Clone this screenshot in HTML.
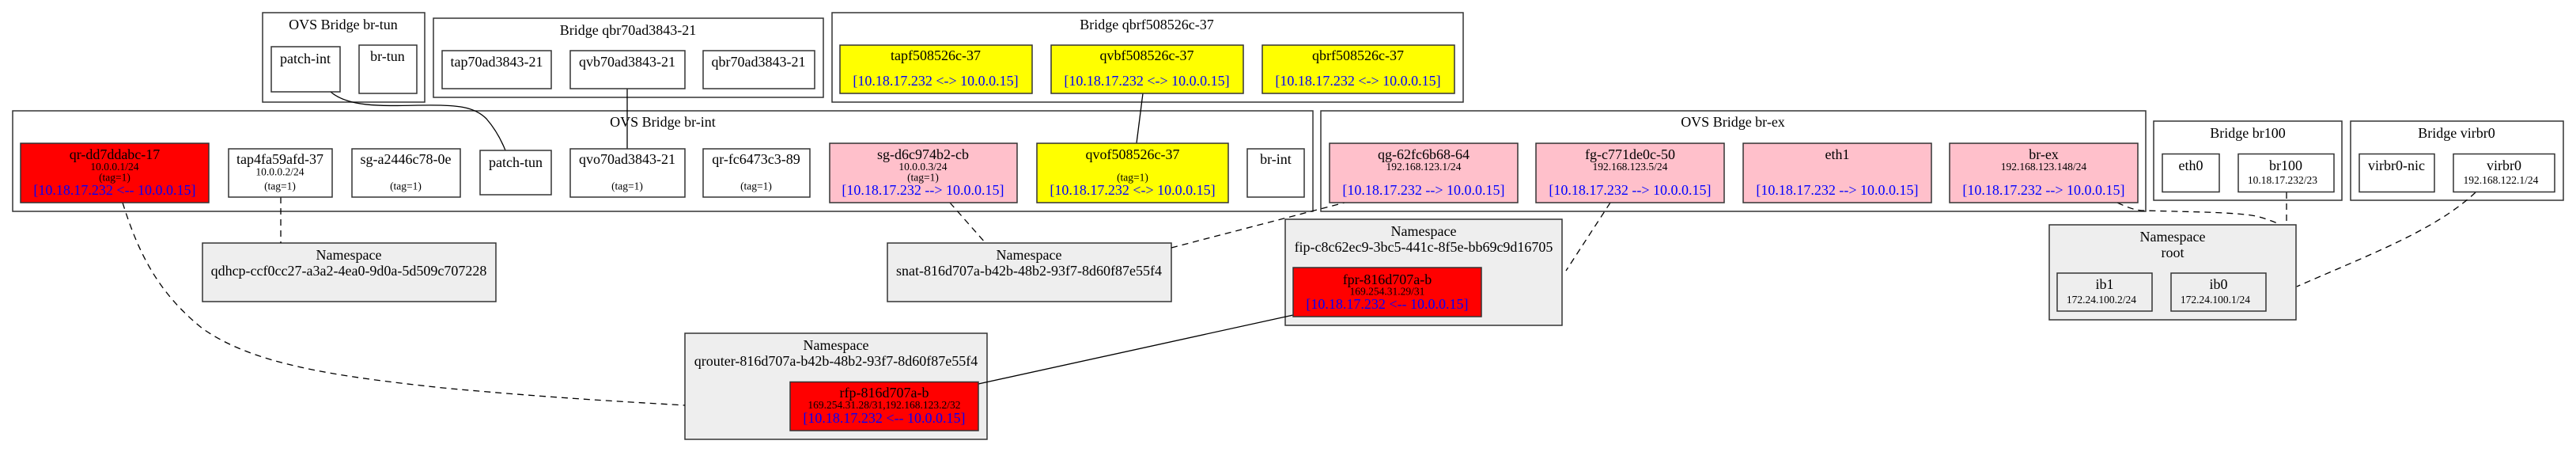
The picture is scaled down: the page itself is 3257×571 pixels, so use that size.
<!DOCTYPE html>
<html><head><meta charset="utf-8"><style>
html,body{margin:0;padding:0;background:#fff;}
svg{display:block;}
text{font-family:"Liberation Serif",serif;fill:#000;}
.t{font-size:18px;text-anchor:middle;}
.s{font-size:13.5px;text-anchor:middle;}
.b{font-size:18px;text-anchor:middle;fill:#0000ff;}
.cl{fill:none;stroke:#333;stroke-width:1.5;}
.n{stroke:#333;stroke-width:1.5;}
.e{fill:none;stroke:#000;stroke-width:1.3;}
.d{fill:none;stroke:#000;stroke-width:1.3;stroke-dasharray:8,6;}
</style></head><body>
<svg width="3257" height="571" viewBox="0 0 3257 571" xmlns="http://www.w3.org/2000/svg">
<!-- clusters -->
<rect class="cl" x="332" y="16" width="205" height="113"/>
<text class="t" x="434" y="37">OVS Bridge br-tun</text>
<rect class="cl" x="548" y="23" width="493" height="100"/>
<text class="t" x="794" y="44">Bridge qbr70ad3843-21</text>
<rect class="cl" x="1052" y="16" width="798" height="113"/>
<text class="t" x="1450" y="37">Bridge qbrf508526c-37</text>
<rect class="cl" x="16" y="140" width="1644" height="127"/>
<text class="t" x="838" y="160">OVS Bridge br-int</text>
<rect class="cl" x="1670" y="140" width="1043" height="127"/>
<text class="t" x="2191" y="160">OVS Bridge br-ex</text>
<rect class="cl" x="2723" y="153" width="238" height="100"/>
<text class="t" x="2842" y="174">Bridge br100</text>
<rect class="cl" x="2972" y="153" width="269" height="100"/>
<text class="t" x="3106" y="174">Bridge virbr0</text>

<!-- namespaces -->
<rect class="n" fill="#eeeeee" x="256" y="307" width="371" height="74"/>
<text class="t" x="441" y="328">Namespace</text>
<text class="t" x="441" y="348">qdhcp-ccf0cc27-a3a2-4ea0-9d0a-5d509c707228</text>
<rect class="n" fill="#eeeeee" x="1122" y="307" width="359" height="74"/>
<text class="t" x="1301" y="328">Namespace</text>
<text class="t" x="1301" y="348">snat-816d707a-b42b-48b2-93f7-8d60f87e55f4</text>
<rect class="n" fill="#eeeeee" x="1625" y="277" width="350" height="134"/>
<text class="t" x="1800" y="298">Namespace</text>
<text class="t" x="1800" y="318">fip-c8c62ec9-3bc5-441c-8f5e-bb69c9d16705</text>
<rect class="n" fill="#eeeeee" x="866" y="421" width="382" height="134"/>
<text class="t" x="1057" y="442">Namespace</text>
<text class="t" x="1057" y="462">qrouter-816d707a-b42b-48b2-93f7-8d60f87e55f4</text>
<rect class="n" fill="#eeeeee" x="2591" y="284" width="312" height="120"/>
<text class="t" x="2747" y="305">Namespace</text>
<text class="t" x="2747" y="325">root</text>

<!-- edges -->
<path class="e" d="M418,116 C440,135 480,134 530,133 C580,132 600,135 615,150 C628,165 635,180 639,190"/>
<path class="e" d="M793,112 L793,188"/>
<path class="e" d="M1445,118 L1437,181"/>
<path class="d" d="M355,249 L355,307"/>
<path class="d" d="M155,256 C175,320 200,370 256,415 C320,460 420,475 560,490 C700,503 800,508 866,512"/>
<path class="d" d="M1201,256 L1246,307"/>
<path class="d" d="M1481,313 L1700,256"/>
<path class="d" d="M2036,256 L1980,342"/>
<path class="e" d="M1237,485 L1635,398"/>
<path class="d" d="M2677,256 C2690,262 2700,266 2711,266 C2780,268 2840,268 2860,275 C2875,280 2880,282 2883,284"/>
<path class="d" d="M2891,243 L2891,284"/>
<path class="d" d="M3130,243 C3080,290 3000,320 2904,362"/>

<!-- br-tun nodes -->
<rect class="n" fill="#fff" x="343" y="59" width="87" height="57"/>
<text class="t" x="386" y="80">patch-int</text>
<rect class="n" fill="#fff" x="454" y="57" width="73" height="61"/>
<text class="t" x="490" y="77">br-tun</text>
<!-- qbr70 -->
<rect class="n" fill="#fff" x="559" y="64" width="138" height="48"/>
<text class="t" x="628" y="84">tap70ad3843-21</text>
<rect class="n" fill="#fff" x="721" y="64" width="145" height="48"/>
<text class="t" x="793" y="84">qvb70ad3843-21</text>
<rect class="n" fill="#fff" x="889" y="64" width="141" height="48"/>
<text class="t" x="959" y="84">qbr70ad3843-21</text>
<!-- qbrf -->
<rect class="n" fill="#ffff00" x="1062" y="57" width="243" height="61"/>
<text class="t" x="1183" y="76">tapf508526c-37</text>
<text class="b" x="1183" y="108">[10.18.17.232 &lt;-&gt; 10.0.0.15]</text>
<rect class="n" fill="#ffff00" x="1329" y="57" width="243" height="61"/>
<text class="t" x="1450" y="76">qvbf508526c-37</text>
<text class="b" x="1450" y="108">[10.18.17.232 &lt;-&gt; 10.0.0.15]</text>
<rect class="n" fill="#ffff00" x="1596" y="57" width="243" height="61"/>
<text class="t" x="1717" y="76">qbrf508526c-37</text>
<text class="b" x="1717" y="108">[10.18.17.232 &lt;-&gt; 10.0.0.15]</text>

<!-- br-int nodes -->
<rect class="n" fill="#ff0000" x="26" y="181" width="238" height="75"/>
<text class="t" x="145" y="201">qr-dd7ddabc-17</text>
<text class="s" x="145" y="215">10.0.0.1/24</text>
<text class="s" x="145" y="228.5">(tag=1)</text>
<text class="b" x="145" y="246">[10.18.17.232 &lt;-- 10.0.0.15]</text>
<rect class="n" fill="#fff" x="289" y="188" width="131" height="61"/>
<text class="t" x="354" y="207">tap4fa59afd-37</text>
<text class="s" x="354" y="221.5">10.0.0.2/24</text>
<text class="s" x="354" y="239.5">(tag=1)</text>
<rect class="n" fill="#fff" x="445" y="188" width="137" height="61"/>
<text class="t" x="513" y="207">sg-a2446c78-0e</text>
<text class="s" x="513" y="239.5">(tag=1)</text>
<rect class="n" fill="#fff" x="607" y="190" width="90" height="56"/>
<text class="t" x="652" y="211">patch-tun</text>
<rect class="n" fill="#fff" x="721" y="188" width="145" height="61"/>
<text class="t" x="793" y="207">qvo70ad3843-21</text>
<text class="s" x="793" y="239.5">(tag=1)</text>
<rect class="n" fill="#fff" x="889" y="188" width="135" height="61"/>
<text class="t" x="956" y="207">qr-fc6473c3-89</text>
<text class="s" x="956" y="239.5">(tag=1)</text>
<rect class="n" fill="#ffc0cb" x="1049" y="181" width="237" height="75"/>
<text class="t" x="1167" y="201">sg-d6c974b2-cb</text>
<text class="s" x="1167" y="215">10.0.0.3/24</text>
<text class="s" x="1167" y="228.5">(tag=1)</text>
<text class="b" x="1167" y="246">[10.18.17.232 --&gt; 10.0.0.15]</text>
<rect class="n" fill="#ffff00" x="1311" y="181" width="242" height="75"/>
<text class="t" x="1432" y="201">qvof508526c-37</text>
<text class="s" x="1432" y="228.5">(tag=1)</text>
<text class="b" x="1432" y="246">[10.18.17.232 &lt;-&gt; 10.0.0.15]</text>
<rect class="n" fill="#fff" x="1577" y="188" width="72" height="61"/>
<text class="t" x="1613" y="207">br-int</text>

<!-- br-ex nodes -->
<rect class="n" fill="#ffc0cb" x="1681" y="181" width="238" height="75"/>
<text class="t" x="1800" y="201">qg-62fc6b68-64</text>
<text class="s" x="1800" y="215">192.168.123.1/24</text>
<text class="b" x="1800" y="246">[10.18.17.232 --&gt; 10.0.0.15]</text>
<rect class="n" fill="#ffc0cb" x="1942" y="181" width="238" height="75"/>
<text class="t" x="2061" y="201">fg-c771de0c-50</text>
<text class="s" x="2061" y="215">192.168.123.5/24</text>
<text class="b" x="2061" y="246">[10.18.17.232 --&gt; 10.0.0.15]</text>
<rect class="n" fill="#ffc0cb" x="2204" y="181" width="238" height="75"/>
<text class="t" x="2323" y="201">eth1</text>
<text class="b" x="2323" y="246">[10.18.17.232 --&gt; 10.0.0.15]</text>
<rect class="n" fill="#ffc0cb" x="2465" y="181" width="238" height="75"/>
<text class="t" x="2584" y="201">br-ex</text>
<text class="s" x="2584" y="215">192.168.123.148/24</text>
<text class="b" x="2584" y="246">[10.18.17.232 --&gt; 10.0.0.15]</text>

<!-- br100 / virbr0 -->
<rect class="n" fill="#fff" x="2734" y="194.5" width="72" height="48"/>
<text class="t" x="2770" y="215">eth0</text>
<rect class="n" fill="#fff" x="2830" y="194.5" width="121" height="48"/>
<text class="t" x="2890" y="215">br100</text>
<text class="s" x="2886" y="232">10.18.17.232/23</text>
<rect class="n" fill="#fff" x="2983" y="194.5" width="95" height="48"/>
<text class="t" x="3030" y="215">virbr0-nic</text>
<rect class="n" fill="#fff" x="3102" y="194.5" width="128" height="48"/>
<text class="t" x="3166" y="215">virbr0</text>
<text class="s" x="3162" y="232">192.168.122.1/24</text>

<!-- root -->
<rect class="n" fill="#eeeeee" x="2601" y="345" width="120" height="48"/>
<text class="t" x="2661" y="365">ib1</text>
<text class="s" x="2657" y="383">172.24.100.2/24</text>
<rect class="n" fill="#eeeeee" x="2745" y="345" width="120" height="48"/>
<text class="t" x="2805" y="365">ib0</text>
<text class="s" x="2801" y="383">172.24.100.1/24</text>

<!-- fpr / rfp -->
<rect class="n" fill="#ff0000" x="1635" y="338" width="238" height="62"/>
<text class="t" x="1754" y="359">fpr-816d707a-b</text>
<text class="s" x="1754" y="372.5">169.254.31.29/31</text>
<text class="b" x="1754" y="390">[10.18.17.232 &lt;-- 10.0.0.15]</text>
<rect class="n" fill="#ff0000" x="999" y="482.5" width="238" height="61.5"/>
<text class="t" x="1118" y="502">rfp-816d707a-b</text>
<text class="s" x="1118" y="516">169.254.31.28/31,192.168.123.2/32</text>
<text class="b" x="1118" y="534">[10.18.17.232 &lt;-- 10.0.0.15]</text>
</svg>
</body></html>
